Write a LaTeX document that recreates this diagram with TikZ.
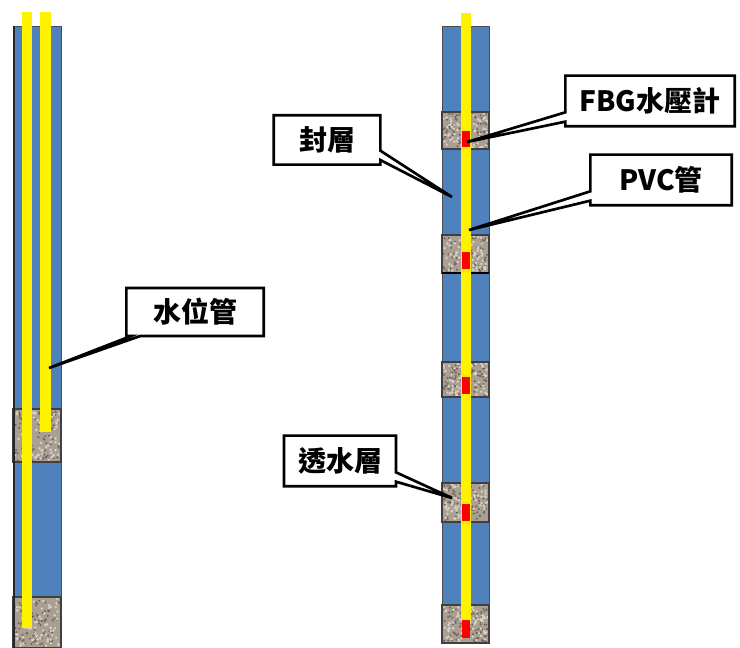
\documentclass[tikz,border=0pt]{standalone}
\usepackage{fontspec}
\newfontfamily\cjk{Noto Sans CJK TC}
\usetikzlibrary{shapes.callouts}

\definecolor{waterblue}{RGB}{79,129,189}
\definecolor{sand}{RGB}{170,159,147}
\definecolor{grit}{RGB}{112,98,86}
\definecolor{grain}{RGB}{215,208,198}

\begin{document}
\begin{tikzpicture}[x=0.75pt,y=-0.75pt]
    \tikzstyle{seal}=[fill=waterblue, draw=black!70, line width=0.6pt]
    \tikzstyle{pipe}=[fill=yellow]
    \tikzstyle{sensor}=[fill=red]
    \tikzstyle{callbox}=[rectangle callout, draw, line width=2pt, fill=white,
        font=\cjk\bfseries\fontsize{21}{25}\selectfont, inner sep=2pt,
        callout pointer width=7pt]
    \pgfmathsetseed{17}

    % speckled filter layer
    \def\gravel#1#2#3#4{%
        \fill[sand] (#1,#2) rectangle (#3,#4);
        \foreach \k in {1,...,90} {
            \pgfmathsetmacro\px{#1+1.5+rnd*(#3-#1-3)}
            \pgfmathsetmacro\py{#2+1.5+rnd*(#4-#2-3)}
            \fill[grit] (\px,\py) circle (1.1);
        }
        \foreach \k in {1,...,70} {
            \pgfmathsetmacro\px{#1+1.5+rnd*(#3-#1-3)}
            \pgfmathsetmacro\py{#2+1.5+rnd*(#4-#2-3)}
            \fill[grain] (\px,\py) circle (1.4);
        }
        \draw[black!75, line width=0.8pt] (#1,#2) rectangle (#3,#4);
    }

    \useasboundingbox (0,0) rectangle (740,648);

    % standpipe well
    \foreach \ya/\yb in {26/409, 462/597} {
        \draw[seal] (13,\ya) rectangle (61,\yb);
    }
    \gravel{13}{409}{61}{462}
    \gravel{13}{597}{61}{648}
    \draw[black!85, line width=2pt] (14,26) -- (14,648);
    \fill[pipe] (22,12) rectangle (32,628);
    \fill[pipe] (40,12) rectangle (51,432);

    % piezometer well
    \foreach \ya/\yb in {26/112, 149/235, 273/362, 397/483, 522/605} {
        \draw[seal] (442,\ya) rectangle (489,\yb);
    }
    \foreach \ya/\yb in {112/149, 235/273, 362/397, 483/522, 605/643} {
        \gravel{442}{\ya}{489}{\yb}
    }
    \draw[black, line width=1.6pt] (442,273) -- (489,273);
    \fill[pipe] (461,13) rectangle (471,622);
    \foreach \ya/\yb in {131/147, 252/269, 377/394, 504/521, 620/638} {
        \fill[sensor] (462,\ya) rectangle (470,\yb);
    }

    % pointer tips
    \coordinate (fbgtip) at (467,142);
    \coordinate (pvctip) at (469,230);
    \coordinate (sealtip) at (452,197);
    \coordinate (filtertip) at (452,498);
    \coordinate (standtip) at (49,368);

    \node[callbox, minimum width=127pt, minimum height=38pt,
        callout absolute pointer={(fbgtip)}] (fbg) at (650,101) {FBG水壓計};
    \node[callbox, minimum width=106pt, minimum height=38pt,
        callout absolute pointer={(pvctip)}] (pvc) at (661,180) {PVC管};
    \node[callbox, minimum width=80pt, minimum height=37pt,
        callout absolute pointer={(sealtip)}] (sealbox) at (327,140) {封層};
    \node[callbox, minimum width=84pt, minimum height=38pt,
        callout absolute pointer={(filtertip)}] (filterbox) at (340,461) {透水層};
    \node[callbox, minimum width=103pt, minimum height=36pt,
        callout absolute pointer={(standtip)}] (standbox) at (195,312) {水位管};
\end{tikzpicture}
\end{document}
